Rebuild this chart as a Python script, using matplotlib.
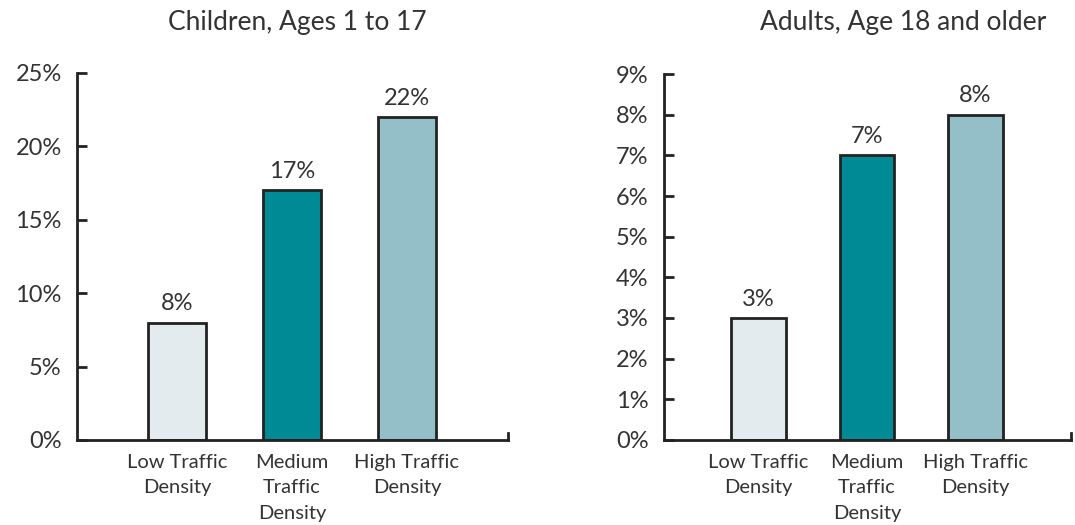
import matplotlib
matplotlib.use("Agg")
import matplotlib.pyplot as plt
import numpy as np

# data
categories = ["Low Traffic\nDensity", "Medium\nTraffic\nDensity", "High Traffic\nDensity"]
children = [8, 17, 22]
adults = [3, 7, 8]
children_ticks = [0, 5, 10, 15, 20, 25]
adults_ticks = [0, 1, 2, 3, 4, 5, 6, 7, 8, 9]

BAR_COLORS = ["#e3ebee", "#008a96", "#95bfc8"]
EDGE = "#222222"
TXT = "#333333"

plt.rcParams['font.family'] = ['Lato', 'DejaVu Sans']

fig = plt.figure(figsize=(10.75, 5.25), dpi=100)
axL = fig.add_axes([0.0716, 0.162, 0.401, 0.699])
axR = fig.add_axes([0.6177, 0.162, 0.3786, 0.697])


def draw(ax, vals, ticks, title, title_x):
    x = np.arange(len(vals))
    ax.bar(x, vals, width=0.5, color=BAR_COLORS, edgecolor=EDGE, linewidth=2, zorder=2)
    for xi, v in zip(x, vals):
        ax.annotate(f"{v}%", (xi, v), xytext=(0, 6), textcoords="offset points",
                    ha="center", va="bottom", fontsize=17, color=TXT)
    ax.set_xlim(-0.87, 2.88)
    ax.set_ylim(0, ticks[-1])
    ax.set_yticks(ticks)
    ax.set_yticklabels([f"{t}%" for t in ticks])
    ax.set_xticks(x)
    ax.set_xticklabels(categories, fontsize=14.5, color=TXT, linespacing=1.6)
    ax.tick_params(axis="x", length=0, pad=10)
    ax.tick_params(axis="y", direction="in", length=7, width=2, color=EDGE,
                   labelsize=17, labelcolor=TXT, pad=11)
    for s in ["top", "right"]:
        ax.spines[s].set_visible(False)
    for s in ["left", "bottom"]:
        ax.spines[s].set_linewidth(2)
        ax.spines[s].set_color(EDGE)
    # little upward tick at the right end of the x axis
    ax.plot([1, 1], [0, 0.02], transform=ax.transAxes, color=EDGE, lw=2,
            clip_on=False, solid_capstyle="projecting")
    fig.text(title_x, 0.958, title, ha="center", va="center", fontsize=19, color=TXT)


draw(axL, children, children_ticks, "Children, Ages 1 to 17", 0.277)
draw(axR, adults, adults_ticks, "Adults, Age 18 and older", 0.84)

fig.savefig("out.png", dpi=100)
